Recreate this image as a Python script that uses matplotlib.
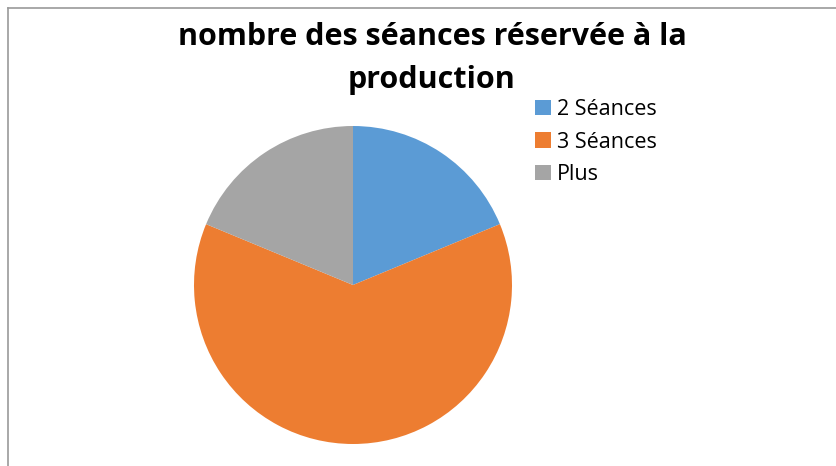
import matplotlib
matplotlib.use("Agg")
import matplotlib.pyplot as plt
from matplotlib.lines import Line2D
from matplotlib.patches import Patch

categories = ["2 Séances", "3 Séances", "Plus"]
values = [3, 10, 3]
colors = ["#5b9bd5", "#ed7d31", "#a5a5a5"]
title = "nombre des séances réservée à la\nproduction"

W, H = 836, 466
fig = plt.figure(figsize=(W / 100, H / 100), dpi=100)
fig.patch.set_facecolor("white")

# chart border (left and top visible)
fig.add_artist(Line2D([7.5 / W, 7.5 / W], [0, 1 - 8 / H], transform=fig.transFigure,
                      color="#9a9a9a", lw=1.2))
fig.add_artist(Line2D([7.5 / W, 1], [1 - 8 / H, 1 - 8 / H], transform=fig.transFigure,
                      color="#9a9a9a", lw=1.2))

cx, cy, r = 353, 285, 159
ax = fig.add_axes([(cx - r) / W, (H - cy - r) / H, 2 * r / W, 2 * r / H])
ax.pie(values, colors=colors, startangle=90, counterclock=False,
       wedgeprops=dict(linewidth=0))
ax.set_xlim(-1, 1)
ax.set_ylim(-1, 1)
ax.set_aspect("equal")
ax.axis("off")

fig.text(432 / W, 1 - 58.5 / H, title, ha="center", va="center", fontsize=22,
         fontweight="bold", family="Open Sans", linespacing=1.55, color="black")

handles = [Patch(facecolor=c, edgecolor="none") for c in colors]
fig.legend(handles, categories, loc="upper left",
           bbox_to_anchor=(535 / W, 1 - 99 / H), frameon=False,
           prop=dict(family="Open Sans", size=15.5), handlelength=0.72,
           handleheight=0.72, handletextpad=0.3, labelspacing=0.54,
           borderaxespad=0, borderpad=0)

fig.savefig("out.png", dpi=100, facecolor="white")
